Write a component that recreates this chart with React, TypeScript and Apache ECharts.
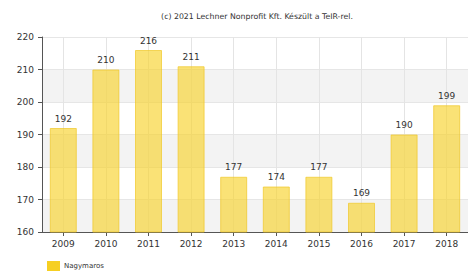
import React, { useEffect, useRef } from "react";
import * as echarts from "echarts";

const categories = ["2009", "2010", "2011", "2012", "2013", "2014", "2015", "2016", "2017", "2018"];
const values = [192, 210, 216, 211, 177, 174, 177, 169, 190, 199];
const seriesName = "Nagymaros";
const titleText = "(c) 2021 Lechner Nonprofit Kft. Készült a TeIR-rel.";
const yMin = 160;
const yMax = 220;
const yInterval = 10;

export default function App() {
  const ref = useRef<HTMLDivElement>(null);
  useEffect(() => {
    if (!ref.current) return;
    const chart = echarts.init(ref.current, undefined, { renderer: "svg" });
    const font = "DejaVu Sans, Verdana, sans-serif";
    chart.setOption({
      animation: false,
      backgroundColor: "#ffffff",
      textStyle: { fontFamily: font },
      title: {
        text: titleText,
        left: 257,
        textAlign: "center",
        top: 12,
        padding: 0,
        textStyle: { fontSize: 7.8, fontWeight: "normal", color: "#333", fontFamily: font },
      },
      legend: {
        left: 47,
        top: 261,
        padding: 0,
        itemWidth: 13,
        itemHeight: 10,
        itemGap: 10,
        textStyle: { fontSize: 7, color: "#333", fontFamily: font, padding: [0, 0, 0, -1] },
        data: [{ name: seriesName, icon: "rect", itemStyle: { color: "#f6cf22", opacity: 1, borderWidth: 0 } }],
      },
      grid: { left: 42, top: 37, width: 428, bottom: 40, containLabel: false },
      xAxis: {
        type: "category",
        data: categories,
        boundaryGap: true,
        axisLine: { show: true, lineStyle: { color: "#555", width: 1 } },
        axisTick: { show: true, alignWithLabel: true, length: 4, lineStyle: { color: "#555" } },
        axisLabel: { fontSize: 9, color: "#333", margin: 7, fontFamily: font },
        splitLine: { show: true, alignWithLabel: true, lineStyle: { color: "#e4e4e4" } },
      },
      yAxis: {
        type: "value",
        min: yMin,
        max: yMax,
        interval: yInterval,
        axisLine: { show: true, lineStyle: { color: "#555", width: 1 } },
        axisTick: { show: true, length: 4, lineStyle: { color: "#555" } },
        axisLabel: { fontSize: 9, color: "#333", margin: 8, fontFamily: font },
        splitLine: { show: true, lineStyle: { color: "#e6e6e6" } },
        splitArea: { show: true, areaStyle: { color: ["#f3f3f3", "#ffffff"] } },
      },
      series: [
        {
          name: seriesName,
          type: "bar",
          data: values,
          barWidth: 27,
          itemStyle: { color: "rgba(247,210,45,0.65)", borderColor: "rgba(240,200,40,0.7)", borderWidth: 1 },
          label: { show: true, position: "top", distance: 5, fontSize: 9, color: "#333", fontFamily: font },
        },
      ],
    });
    return () => chart.dispose();
  }, []);
  return <div ref={ref} style={{ width: 468, height: 272, position: "absolute", left: 0, top: 0 }} />;
}
